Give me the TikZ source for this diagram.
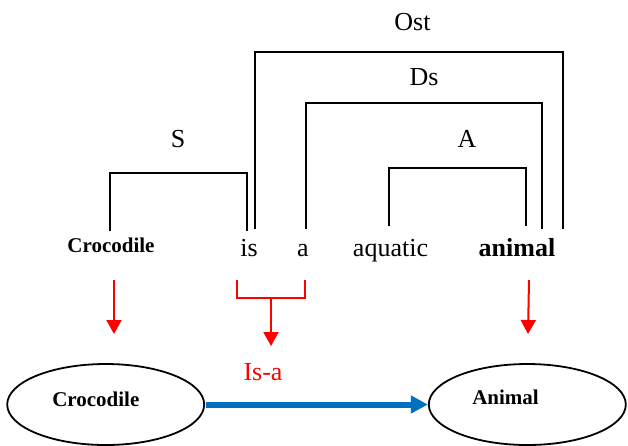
\documentclass[tikz,border=0pt]{standalone}
\usepackage{fontspec}
\setmainfont{Liberation Serif}
\usetikzlibrary{arrows.meta,shapes.geometric}
\definecolor{isablue}{RGB}{0,112,192}
\definecolor{isared}{RGB}{255,0,0}
\tikzset{
  word/.style={inner sep=0pt,anchor=base,font=\fontsize{26}{30}\selectfont},
  smallbold/.style={inner sep=0pt,anchor=base,font=\fontsize{21}{25}\selectfont\bfseries},
  bracketline/.style={line width=2pt,black},
  redline/.style={line width=2pt,isared},
  redarrow/.style={line width=2pt,isared,-{Triangle[length=14pt,width=15pt]}},
  bluearrow/.style={line width=6pt,isablue,-{Triangle[length=17pt,width=17pt]},shorten <=1pt},
  concept/.style={ellipse,draw,line width=1.8pt,minimum width=197pt,minimum height=81pt,inner sep=0pt}
}
\begin{document}
\begin{tikzpicture}[x=1pt,y=-1pt]
\useasboundingbox (0,0) rectangle (628,445);
% words of the sentence
\node[smallbold] (croc) at (111,252) {Crocodile};
\node[word] (is) at (249,256) {is};
\node[word] (a) at (303,256) {a};
\node[word] (aqua) at (390.5,256) {aquatic};
\node[word,font=\fontsize{26}{30}\selectfont\bfseries] (anim) at (517,256) {animal};
% labels of the brackets
\node[word] (lS) at (178,147) {S};
\node[word] (lA) at (467,147) {A};
\node[word] (lDs) at (424,85) {Ds};
\node[word] (lOst) at (412.5,30) {Ost};
% bracket corner coordinates
\coordinate (s1) at (110,231);
\coordinate (s2) at (247,231);
\coordinate (o1) at (254.5,229);
\coordinate (o2) at (562.5,229);
\coordinate (d1) at (306,229);
\coordinate (d2) at (541.5,229);
\coordinate (a1) at (389,226);
\coordinate (a2) at (526,226);
\draw[bracketline] (s1) |- (178,173.3) -| (s2);
\draw[bracketline] (o1) |- (410,51.7) -| (o2);
\draw[bracketline] (d1) |- (420,103.3) -| (d2);
\draw[bracketline] (a1) |- (460,167.7) -| (a2);
% red arrows
\coordinate (r1s) at (114,280);
\coordinate (r1e) at (114,334);
\draw[redarrow] (r1s) -- (r1e);
\coordinate (bl) at (237.3,280);
\coordinate (br) at (305,280);
\coordinate (bm) at (271,298.3);
\coordinate (bme) at (271,346);
\draw[redline] (bl) |- (bm) -| (br);
\draw[redarrow] (bm) -- (bme);
\coordinate (r3s) at (529,280);
\coordinate (r3e) at (528,334);
\draw[redarrow] (r3s) -- (r3e);
\node[word,text=isared] (isa) at (263,380.7) {Is-a};
% concept ellipses
\node[concept] (e1) at (105.7,404.5) {};
\node[concept] (e2) at (527.3,404.5) {};
\node[smallbold] (t1) at (95.8,406) {Crocodile};
\node[smallbold] (t2) at (505.5,404.3) {Animal};
\draw[bluearrow] (e1.east) -- (e2.west);
\end{tikzpicture}
\end{document}
